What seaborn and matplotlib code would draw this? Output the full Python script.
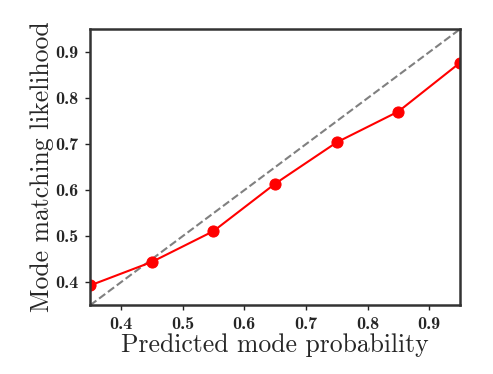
import numpy as np
import pandas as pd
import matplotlib
matplotlib.use('Agg')
import matplotlib.pyplot as plt
import seaborn as sns

# calibration points (bin centre vs observed matching rate)
pred_prob = [0.35, 0.45, 0.55, 0.65, 0.75, 0.85, 0.95]
match_rate = [0.393, 0.444, 0.511, 0.614, 0.704, 0.771, 0.877]
diag = [0.35, 0.95]

sns.set_style('ticks')
plt.rcParams['font.family'] = 'serif'
plt.rcParams['font.serif'] = ['cmr10', 'DejaVu Serif']
plt.rcParams['mathtext.fontset'] = 'cm'
plt.rcParams['axes.formatter.use_mathtext'] = True

df = pd.DataFrame({'pred': pred_prob, 'match': match_rate})

fig = plt.figure(figsize=(4.93, 3.74), dpi=100)
ax = fig.add_axes([0.183, 0.184, 0.750, 0.738])

ax.plot(diag, diag, linestyle='--', color='gray', linewidth=1.5)
sns.lineplot(data=df, x='pred', y='match', color='red', marker='o',
             markersize=8, markeredgecolor='red', linewidth=1.5, ax=ax)

ax.set_xlim(0.35, 0.95)
ax.set_ylim(0.35, 0.95)
ticks = [0.4, 0.5, 0.6, 0.7, 0.8, 0.9]
ax.set_xticks(ticks)
ax.set_yticks(ticks)
ax.set_xticklabels([f'{t:.1f}' for t in ticks], family='cmb10', fontsize=13)
ax.set_yticklabels([f'{t:.1f}' for t in ticks], family='cmb10', fontsize=13)
ax.tick_params(direction='out', length=3.5, width=1, color='#222222', pad=5)

for sp in ax.spines.values():
    sp.set_linewidth(1.8)
    sp.set_color('#333333')

ax.set_xlabel('Predicted mode probability', fontsize=18.5, labelpad=1)
ax.set_ylabel('Mode matching likelihood', fontsize=18.5, labelpad=1)

fig.savefig('out.png', dpi=100)
